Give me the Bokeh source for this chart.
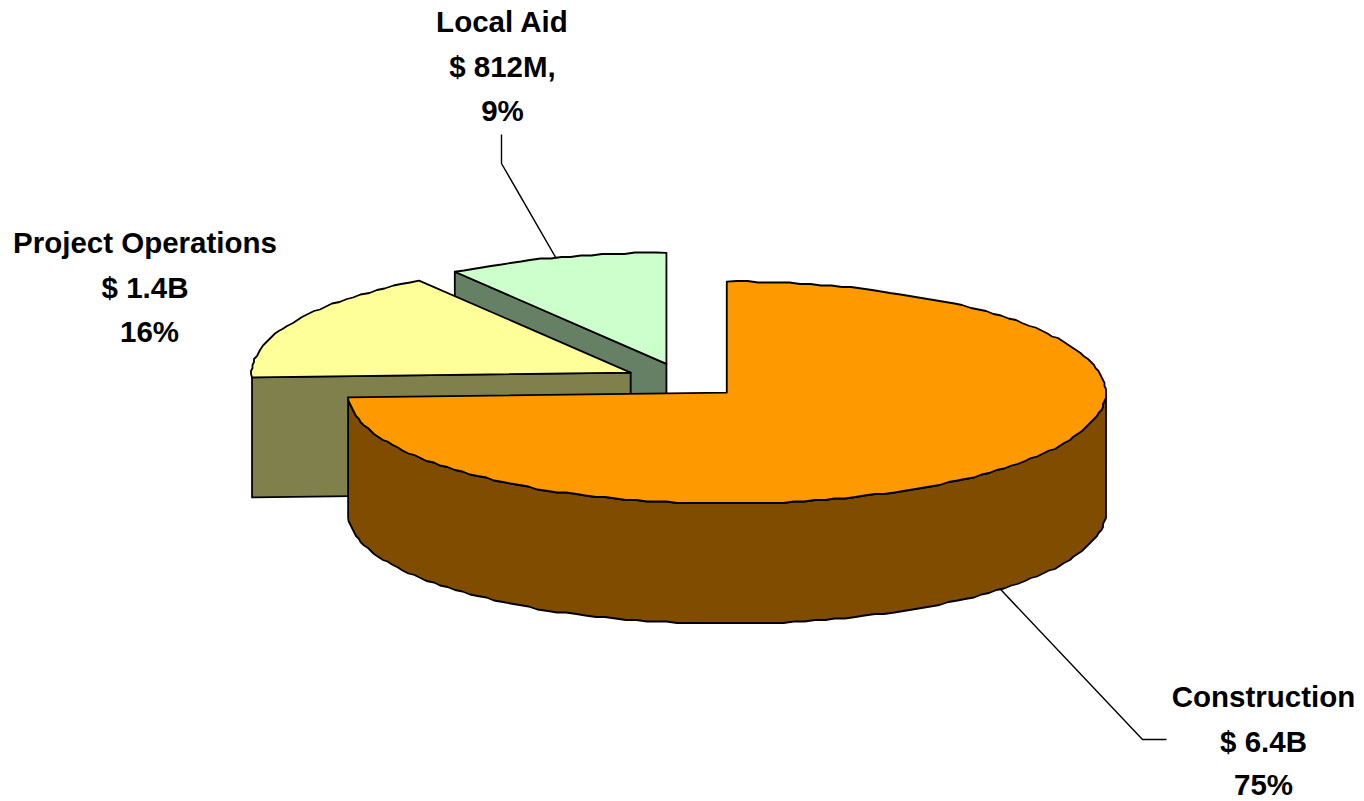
import numpy as np
from bokeh.core.properties import value
from bokeh.embed import file_html
from bokeh.models import Range1d
from bokeh.plotting import figure
from bokeh.resources import INLINE

# Budget split, in billions of dollars
categories = ["Construction", "Project Operations", "Local Aid"]
amounts = [6.4, 1.4, 0.812]
amount_labels = ["$ 6.4B", "$ 1.4B", "$ 812M,"]
share_labels = ["75%", "16%", "9%"]

top_colors = ["#FF9900", "#FFFF99", "#CCFFCC"]
side_colors = ["#804D00", "#80804D", "#668066"]

# Projection of the pie onto the page
WIDTH, HEIGHT = 1364, 801
CX, CY = 683.3, 380.0
RX, RY = 379.0, 111.0
DEPTH = 120.0
EXPLODE = 0.157
EDGE = 1.8
GRID = 1.5  # rim vertices snap to this raster, giving the coarse outline of the pie
STEP = np.radians(1.6)

# Label text: centre x and vertical middle of the three lines per slice
label_layout = {
    "Construction": (1263, [696, 741, 784]),
    "Project Operations": (144.5, [242, 287, 331]),
    "Local Aid": (502, [21, 66, 110]),
}
share_nudge = {"Project Operations": 4.5}

fracs = np.array(amounts) / sum(amounts)
edges = np.concatenate([[0.0], np.cumsum(fracs)]) * 2 * np.pi
mids = (edges[:-1] + edges[1:]) / 2


def apex(i):
    return (CX + EXPLODE * RX * np.sin(mids[i]), CY - EXPLODE * RY * np.cos(mids[i]))


def on_rim(i, theta):
    ax, ay = apex(i)
    return ax + RX * np.sin(theta), ay - RY * np.cos(theta)


def rim(i):
    t = np.linspace(edges[i], edges[i + 1], max(2, int((edges[i + 1] - edges[i]) / STEP) + 1))
    x, y = on_rim(i, t)
    x[1:-1] = np.round(x[1:-1] / GRID) * GRID
    y[1:-1] = np.round(y[1:-1] / GRID) * GRID
    return t, x, y


p = figure(
    width=WIDTH, height=HEIGHT,
    x_range=Range1d(0, WIDTH), y_range=Range1d(HEIGHT, 0),
    x_axis_location=None, y_axis_location=None,
    toolbar_location=None, output_backend="svg",
    min_border=0, outline_line_color=None, background_fill_color="white",
)
p.grid.visible = False

style = dict(line_color="black", line_width=EDGE, line_join="round")


def cut_face(i, theta):
    ax, ay = apex(i)
    rx, ry = on_rim(i, theta)
    p.patch([ax, rx, rx, ax], [ay, ry, ry + DEPTH, ay + DEPTH],
            fill_color=side_colors[i], **style)


def top_face(i):
    ax, ay = apex(i)
    _, x, y = rim(i)
    p.patch(np.r_[ax, x], np.r_[ay, y], fill_color=top_colors[i], **style)


# Back slices first, so the nearer ones overlap them
cut_face(2, edges[2])
top_face(2)
cut_face(1, edges[1])
top_face(1)

# Construction: curved front wall, then the top
t, x, y = rim(0)
front = t >= np.pi / 2
p.patch(np.r_[x[front], x[front][::-1]], np.r_[y[front], y[front][::-1] + DEPTH],
        fill_color=side_colors[0], **style)
top_face(0)

# Leader lines start at the middle of their slice's rim
lx, ly = on_rim(2, mids[2])
p.line([lx, 501, 501], [ly, 163, 134], line_color="black", line_width=1.4)
lx, ly = on_rim(0, mids[0])
p.line([lx, 1142, 1166], [ly + DEPTH, 739, 739], line_color="black", line_width=1.4)

for i, name in enumerate(categories):
    cx, mid_y = label_layout[name]
    lines = [name, amount_labels[i], share_labels[i]]
    xs = [cx, cx, cx + share_nudge.get(name, 0)]
    p.text(xs, mid_y, text=lines, text_font=value("Liberation Sans"), text_font_style="bold",
           text_font_size="29.5px", text_align="center", text_baseline="middle",
           text_color="black")

open("out.html", "w").write(file_html(p, INLINE))
